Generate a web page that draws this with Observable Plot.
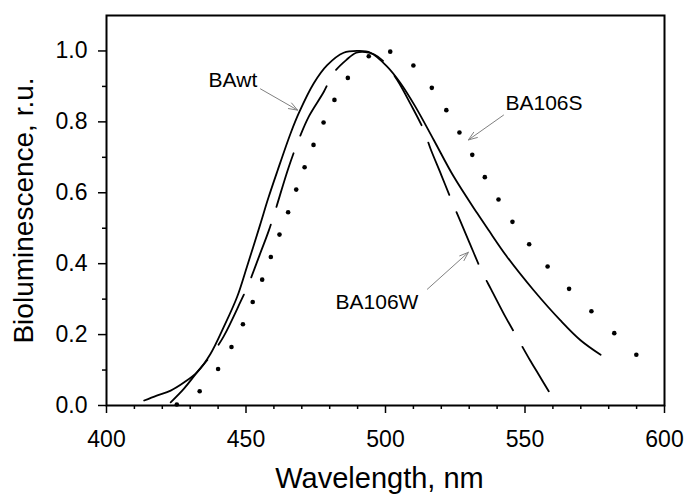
<!DOCTYPE html>
<html><head><meta charset="utf-8">
<script src="https://cdn.jsdelivr.net/npm/d3@7"></script>
<script src="https://cdn.jsdelivr.net/npm/@observablehq/plot@0.6"></script>
<style>body{margin:0;background:#fff;} svg{display:block;}</style>
</head><body><div id="chart"></div>
<script>
// Axis ticks
const wavelengthTicks = [400, 450, 500, 550, 600];
const wavelengthMinor = [410,420,430,440,460,470,480,490,510,520,530,540,560,570,580,590];
const bioTicks = [0, 0.2, 0.4, 0.6, 0.8, 1.0];
const bioMinor = [0.1, 0.3, 0.5, 0.7, 0.9];

// BAwt (solid line)
const bawtWl = [413.5,418,423,428,432.5,437.3,442,446.8,450.4,455,458,461.2,466,469,474.3,479.1,485,490.4,494.6,500.6,505.4,510.7,517.3,524.5,532.9,537,543.6,553.1,562.7,569.9,577.1];
const bawtVal = [0.014,0.028,0.042,0.066,0.094,0.146,0.221,0.306,0.393,0.508,0.585,0.66,0.768,0.826,0.909,0.960,0.995,1.0,0.995,0.956,0.909,0.843,0.749,0.645,0.542,0.494,0.419,0.325,0.240,0.184,0.143];

// BA106W (dashed line)
const ba106wWl = [423,427.7,432.5,437.9,442,448,451,455,458.2,460.5,465.3,469.5,472.5,477.9,481.5,486,489.5,492.8,496,499.4,504.2,509,513.7,516.1,520,523.9,526.6,530,534.6,537.9,543,548.1,551.7,555,558.5];
const ba106wVal = [0.009,0.047,0.094,0.146,0.195,0.292,0.344,0.427,0.494,0.55,0.672,0.762,0.815,0.885,0.939,0.975,0.995,0.997,0.99,0.970,0.918,0.85,0.777,0.725,0.65,0.574,0.524,0.461,0.377,0.327,0.25,0.179,0.129,0.086,0.040];

// BA106S (dotted)
const ba106sWl = [425.2,433.4,440,444.8,448.9,452.4,455.8,458.9,462,465.1,468,471,474.2,477.8,481.7,486.5,494,501.7,510,516.6,521.8,526.5,531.1,535.6,540.5,545.5,551.5,558.1,565.8,573.8,582,589.9];
const ba106sVal = [0.003,0.040,0.103,0.165,0.229,0.292,0.355,0.419,0.482,0.545,0.609,0.672,0.735,0.798,0.862,0.924,0.985,0.998,0.959,0.896,0.833,0.770,0.707,0.644,0.581,0.518,0.455,0.392,0.329,0.266,0.204,0.143];

// Annotations
const labelNames = ["BAwt", "BA106S", "BA106W"];
const labelWl = [436.6, 543.0, 482.1];
const labelVal = [0.917, 0.852, 0.290];
const arrowFromWl = [455.2, 542.3, 515.0];
const arrowFromVal = [0.893, 0.819, 0.328];
const arrowToWl = [468.5, 529.7, 529.7];
const arrowToVal = [0.833, 0.749, 0.432];

const bawt = bawtWl.map((w, i) => ({wl: w, v: bawtVal[i]}));
const ba106w = ba106wWl.map((w, i) => ({wl: w, v: ba106wVal[i]}));
const ba106s = ba106sWl.map((w, i) => ({wl: w, v: ba106sVal[i]}));
const labels = labelNames.map((t, i) => ({t, wl: labelWl[i], v: labelVal[i]}));
const arrows = labelNames.map((t, i) => ({x1: arrowFromWl[i], y1: arrowFromVal[i], x2: arrowToWl[i], y2: arrowToVal[i]}));

const font = "'Liberation Sans', Arial, sans-serif";

const chart = Plot.plot({
  width: 685,
  height: 495,
  marginLeft: 106,
  marginRight: 21,
  marginTop: 15,
  marginBottom: 90,
  style: {fontFamily: font, background: "#fff", color: "#000"},
  x: {domain: [400, 600], label: null},
  y: {domain: [0, 1.1], label: null},
  marks: [
    Plot.axisX(wavelengthMinor, {tickSize: 4, tickFormat: () => "", label: null, strokeWidth: 1.5}),
    Plot.axisX(wavelengthTicks, {tickSize: 8, tickPadding: 17, fontSize: 23, label: null, strokeWidth: 1.5}),
    Plot.axisY(bioMinor, {tickSize: 4, tickFormat: () => "", label: null, strokeWidth: 1.5}),
    Plot.axisY(bioTicks, {tickSize: 8, tickPadding: 11, fontSize: 23, tickFormat: d3.format(".1f"), label: null, strokeWidth: 1.5}),
    Plot.line(bawt, {x: "wl", y: "v", curve: "catmull-rom", stroke: "#000", strokeWidth: 1.8}),
    Plot.line(ba106w, {x: "wl", y: "v", curve: "catmull-rom", stroke: "#000", strokeWidth: 1.8, strokeDasharray: "56,19"}),
    Plot.dot(ba106s, {x: "wl", y: "v", r: 2.3, fill: "#000", stroke: "none"}),
    Plot.arrow(arrows, {x1: "x1", y1: "y1", x2: "x2", y2: "y2", stroke: "#808080", strokeWidth: 1, headLength: 14, headAngle: 40}),
    Plot.text(labels, {x: "wl", y: "v", text: "t", textAnchor: "start", fontSize: 21, fill: "#000"}),
    Plot.text(["Wavelength, nm"], {frameAnchor: "bottom", textAnchor: "middle", lineAnchor: "bottom", dy: 82, dx: -6, fontSize: 29, fill: "#000"}),
    Plot.text(["Bioluminescence, r.u."], {frameAnchor: "left", textAnchor: "middle", lineAnchor: "middle", rotate: -90, dx: -82, fontSize: 28, fill: "#000"}),
    Plot.frame({stroke: "#000", strokeWidth: 2})
  ]
});
document.getElementById("chart").appendChild(chart);
</script>
</body></html>
